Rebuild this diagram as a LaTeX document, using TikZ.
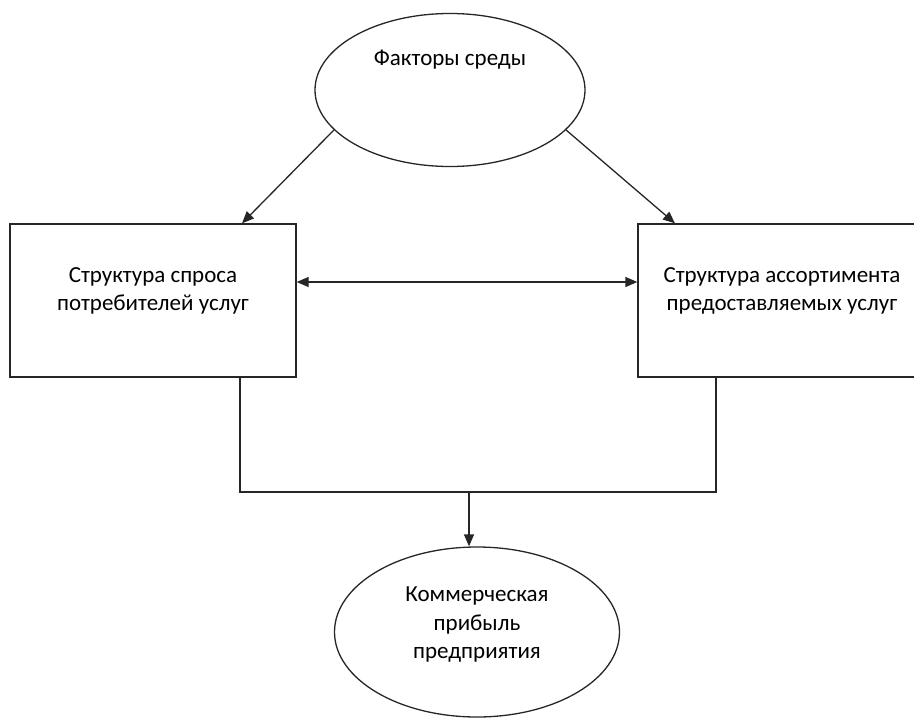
\documentclass[tikz,border=0pt]{standalone}
\usepackage{fontspec}
\setmainfont{Carlito}
\usetikzlibrary{arrows.meta,shapes.geometric}

\begin{document}
\begin{tikzpicture}[x=1pt, y=-1pt, line width=1.3pt, draw=black!85,
    >={Triangle[length=12pt,width=10pt]},
    shapenode/.style={draw, inner sep=0pt},
    labeltext/.style={font=\fontsize{23}{28.5}\selectfont, align=center}]
        \useasboundingbox (0,0) rectangle (914,718);
        % shapes
        \node[shapenode, ellipse, minimum width=270pt, minimum height=153pt] (env) at (450,90) {};
        \node[shapenode, rectangle, minimum width=286pt, minimum height=153pt] (demand) at (153,300.5) {};
        \node[shapenode, rectangle, minimum width=288pt, minimum height=153pt] (range) at (782,300.5) {};
        \node[shapenode, ellipse, minimum width=285pt, minimum height=170pt] (profit) at (477,632) {};
        % texts
        \node[labeltext] (envtext) at (450,60) {Факторы среды};
        \node[labeltext] (demandtext) at (153,291) {Структура спроса\\потребителей услуг};
        \node[labeltext] (rangetext) at (782,291) {Структура ассортимента\\предоставляемых услуг};
        \node[labeltext] (profittext) at (477,625) {Коммерческая\\прибыль\\предприятия};
        \coordinate (join) at (469,492);
        % connectors
        \draw[->] (env.199) -- ([xshift=89pt]demand.north);
        \draw[->] (env.341) -- ([xshift=-107pt]range.north);
        \draw[<->] ([yshift=18.5pt]demand.east) -- ([yshift=18.5pt]range.west);
        \draw ([xshift=87pt]demand.south) |- (join);
        \draw ([xshift=-66pt]range.south) |- (join);
        \draw[->] (join) -- (profit.north -| join);
\end{tikzpicture}
\end{document}
